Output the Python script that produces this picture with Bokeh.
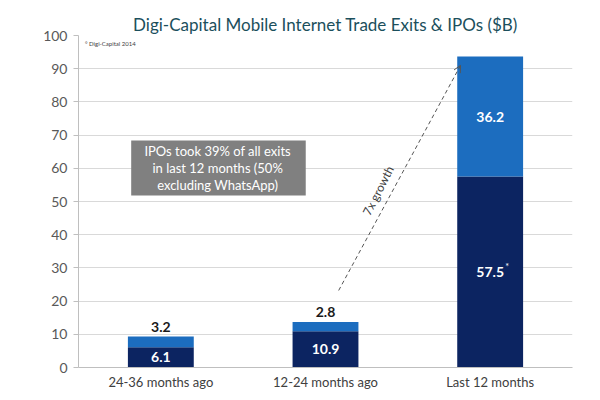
from bokeh.plotting import figure
from bokeh.models import (FactorRange, Range1d, FixedTicker, ColumnDataSource, Arrow,
                          OpenHead, BoxAnnotation, Label, Title)
from bokeh.core.properties import value
from bokeh.embed import file_html
from bokeh.resources import INLINE

categories = ["24-36 months ago", "12-24 months ago", "Last 12 months"]
trade_exits = [6.1, 10.9, 57.5]
ipos = [3.2, 2.8, 36.2]
y_ticks = list(range(0, 101, 10))

title_text = "Digi-Capital Mobile Internet Trade Exits & IPOs ($B)"
note_lines = ["IPOs took 39% of all exits", "in last 12 months (50%", "excluding WhatsApp)"]

DARK = "#0c2461"
BLUE = "#1c6dbf"
FONT = "Lato"

totals = [a + b for a, b in zip(trade_exits, ipos)]
src = ColumnDataSource(dict(cat=categories, exits=trade_exits, total=totals))

p = figure(width=592, height=392, x_range=FactorRange(*categories), y_range=Range1d(0, 100),
           output_backend="svg", toolbar_location=None,
           min_border_left=78, min_border_right=20, min_border_top=35, min_border_bottom=25)
p.outline_line_color = None
p.background_fill_color = "white"

t = Title(text=title_text, text_font=FONT, text_font_size="17px", text_color="#1b4f5c",
          text_font_style="normal", align="center", offset=0, standoff=2)
p.add_layout(t, "above")

p.vbar(x="cat", bottom=0, top="exits", width=0.4, source=src, fill_color=DARK, line_color=None)
p.vbar(x="cat", bottom="exits", top="total", width=0.4, source=src, fill_color=BLUE, line_color=None)

# axes
p.yaxis.ticker = FixedTicker(ticks=y_ticks)
p.yaxis.minor_tick_line_color = None
p.yaxis.major_tick_in = 0
p.yaxis.major_tick_out = 5
p.yaxis.axis_line_color = "#bfbfbf"
p.yaxis.major_tick_line_color = "#bfbfbf"
p.yaxis.major_label_text_font = FONT
p.yaxis.major_label_text_font_size = "14px"
p.yaxis.major_label_text_color = "#595959"
p.yaxis.major_label_standoff = 6

p.xaxis.major_tick_out = 0
p.xaxis.major_tick_in = 0
p.xaxis.axis_line_color = "#bfbfbf"
p.xaxis.major_label_text_font = FONT
p.xaxis.major_label_text_font_size = "13px"
p.xaxis.major_label_text_color = "#404040"
p.xaxis.major_label_standoff = 6

p.xgrid.grid_line_color = None
p.ygrid.grid_line_color = "#d9d9d9"
p.ygrid.ticker = FixedTicker(ticks=y_ticks)

# value labels
src_small = ColumnDataSource(dict(cat=categories[:2], y=[t + 3.0 for t in totals[:2]],
                                  lbl=[f"{v:.1f}" for v in ipos[:2]],
                                  ey=[v / 2 for v in trade_exits[:2]],
                                  elbl=[f"{v:.1f}" for v in trade_exits[:2]]))
p.text(x="cat", y="y", text="lbl", source=src_small, text_align="center", text_baseline="middle",
       text_font=value(FONT), text_font_size="14px", text_font_style="bold", text_color="#1a1a1a")
p.text(x="cat", y="ey", text="elbl", source=src_small, text_align="center", text_baseline="middle",
       text_font=value(FONT), text_font_size="14px", text_font_style="bold", text_color="white")

src_big = ColumnDataSource(dict(cat=categories[2:], ey=[trade_exits[2] / 2], elbl=[f"{trade_exits[2]:.1f}"],
                                iy=[trade_exits[2] + ipos[2] / 2], ilbl=[f"{ipos[2]:.1f}"]))
p.text(x="cat", y="ey", text="elbl", source=src_big, text_align="center", text_baseline="middle",
       text_font=value(FONT), text_font_size="14px", text_font_style="bold", text_color="white")
p.text(x="cat", y="ey", text=value("*"), source=src_big, text_align="left", text_baseline="middle",
       x_offset=15, y_offset=-6, text_font=value(FONT), text_font_size="9px", text_color="white")
p.text(x="cat", y="iy", text="ilbl", source=src_big, text_align="center", text_baseline="middle",
       text_font=value(FONT), text_font_size="14px", text_font_style="bold", text_color="white")

# annotation box
p.add_layout(BoxAnnotation(left=0.32, right=1.38, bottom=51.8, top=68.4,
                           fill_color="#808080", fill_alpha=1, line_color=None, level="overlay"))
for i, line in enumerate(note_lines):
    p.add_layout(Label(x=0.845, y=65.3 - i * 5.1, text=line, text_align="center",
                       text_baseline="middle", text_font=FONT, text_font_size="13px",
                       text_color="white", level="overlay"))

# growth arrow
p.add_layout(Arrow(end=OpenHead(size=7, line_color="#555555", line_width=1),
                   x_start=1.58, y_start=23.2, x_end=2.32, y_end=91.0,
                   line_color="#555555", line_width=1, line_dash="4 3"))
p.add_layout(Label(x=1.82, y=53.3, text="7x growth", angle=1.1, text_align="center",
                   text_baseline="middle", text_font=FONT, text_font_size="12px",
                   text_color="#404040"))

p.add_layout(Label(x=0.04, y=97.6, text="\u00b0 Digi-Capital 2014", text_align="left",
                   text_baseline="middle", text_font=FONT, text_font_size="6px",
                   text_color="#404040"))

open("out.html", "w").write(file_html(p, INLINE))
